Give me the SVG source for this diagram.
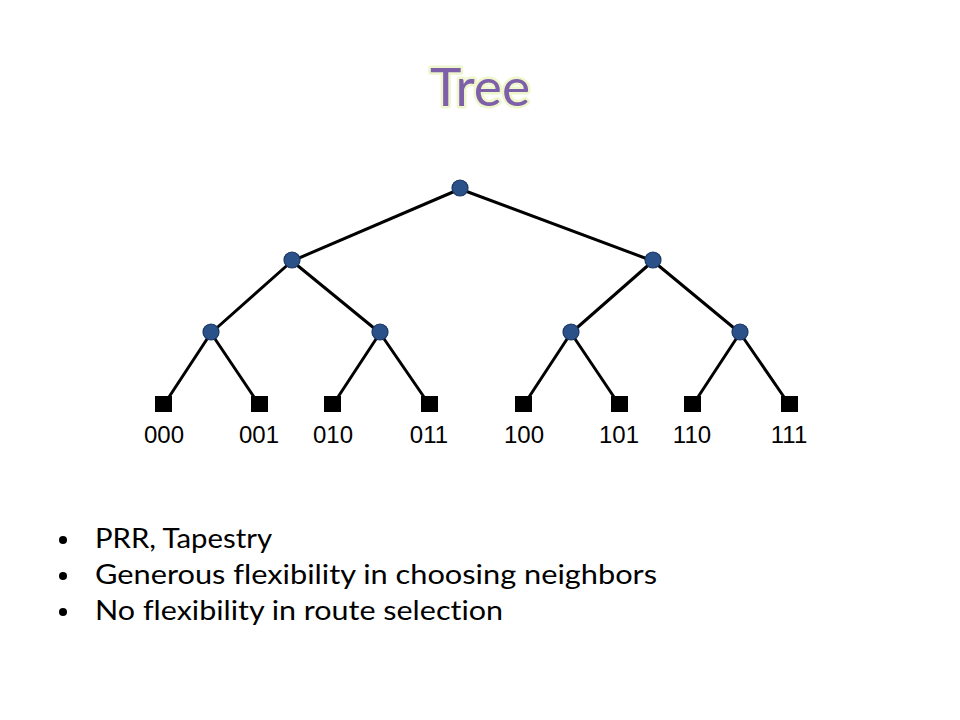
<svg xmlns="http://www.w3.org/2000/svg" width="960" height="720" viewBox="0 0 960 720">
<style>
.title{font-family:Lato,"Open Sans","Liberation Sans",sans-serif;font-size:53px;fill:#7E5FA9;stroke:#EEF6CC;stroke-width:5;paint-order:stroke;stroke-linejoin:round}
.edge{stroke:#000;stroke-width:3;fill:none;stroke-linecap:round}
.inner{fill:#2B5189;stroke:#1A3560;stroke-width:1.2}
.leaf{fill:#000}
.lbl{font-family:"Liberation Sans",Arial,sans-serif;font-size:24px;fill:#000;text-anchor:middle}
.bul{font-family:Lato,"Open Sans","Liberation Sans",sans-serif;font-size:26px;fill:#000;font-variant-ligatures:none}
</style>
<rect width="960" height="720" fill="#fff"/>
<text class="title" x="480" y="106" text-anchor="middle" textLength="100" lengthAdjust="spacingAndGlyphs">Tree</text>
<g id="connectors">
<line class="edge" x1="460" y1="189" x2="292" y2="261"/>
<line class="edge" x1="460" y1="189" x2="653" y2="261"/>
<line class="edge" x1="292" y1="261" x2="211" y2="333"/>
<line class="edge" x1="292" y1="261" x2="380" y2="333"/>
<line class="edge" x1="653" y1="261" x2="571" y2="333"/>
<line class="edge" x1="653" y1="261" x2="740" y2="333"/>
<line class="edge" x1="211" y1="333" x2="169" y2="397"/>
<line class="edge" x1="211" y1="333" x2="254" y2="397"/>
<line class="edge" x1="380" y1="333" x2="338" y2="397"/>
<line class="edge" x1="380" y1="333" x2="424" y2="397"/>
<line class="edge" x1="571" y1="333" x2="529" y2="397"/>
<line class="edge" x1="571" y1="333" x2="614" y2="397"/>
<line class="edge" x1="740" y1="333" x2="698" y2="397"/>
<line class="edge" x1="740" y1="333" x2="784" y2="397"/>
</g>
<g id="root"><circle class="inner" cx="460" cy="188" r="8"/></g>
<g id="n0"><circle class="inner" cx="292" cy="260" r="8"/></g>
<g id="n1"><circle class="inner" cx="653" cy="260" r="8"/></g>
<g id="n00"><circle class="inner" cx="211" cy="332" r="8"/></g>
<g id="n01"><circle class="inner" cx="380" cy="332" r="8"/></g>
<g id="n10"><circle class="inner" cx="571" cy="332" r="8"/></g>
<g id="n11"><circle class="inner" cx="740" cy="332" r="8"/></g>
<g id="leaf000"><rect class="leaf" x="155" y="396" width="17" height="16"/><text class="lbl" x="164" y="443">000</text></g>
<g id="leaf001"><rect class="leaf" x="251" y="396" width="17" height="16"/><text class="lbl" x="259" y="443">001</text></g>
<g id="leaf010"><rect class="leaf" x="324" y="396" width="17" height="16"/><text class="lbl" x="333" y="443">010</text></g>
<g id="leaf011"><rect class="leaf" x="421" y="396" width="17" height="16"/><text class="lbl" x="429" y="443">011</text></g>
<g id="leaf100"><rect class="leaf" x="515" y="396" width="17" height="16"/><text class="lbl" x="524" y="443">100</text></g>
<g id="leaf101"><rect class="leaf" x="611" y="396" width="17" height="16"/><text class="lbl" x="619" y="443">101</text></g>
<g id="leaf110"><rect class="leaf" x="684" y="396" width="17" height="16"/><text class="lbl" x="692" y="443">110</text></g>
<g id="leaf111"><rect class="leaf" x="781" y="396" width="17" height="16"/><text class="lbl" x="789" y="443">111</text></g>
<g id="bullets">
<circle cx="63" cy="540" r="4"/>
<circle cx="63" cy="576" r="4"/>
<circle cx="63" cy="612" r="4"/>
<text class="bul" x="95" y="548" textLength="177" lengthAdjust="spacingAndGlyphs">PRR, Tapestry</text>
<text class="bul" x="95" y="584" textLength="562" lengthAdjust="spacingAndGlyphs">Generous flexibility in choosing neighbors</text>
<text class="bul" x="95" y="620" textLength="408" lengthAdjust="spacingAndGlyphs">No flexibility in route selection</text>
</g>
</svg>
